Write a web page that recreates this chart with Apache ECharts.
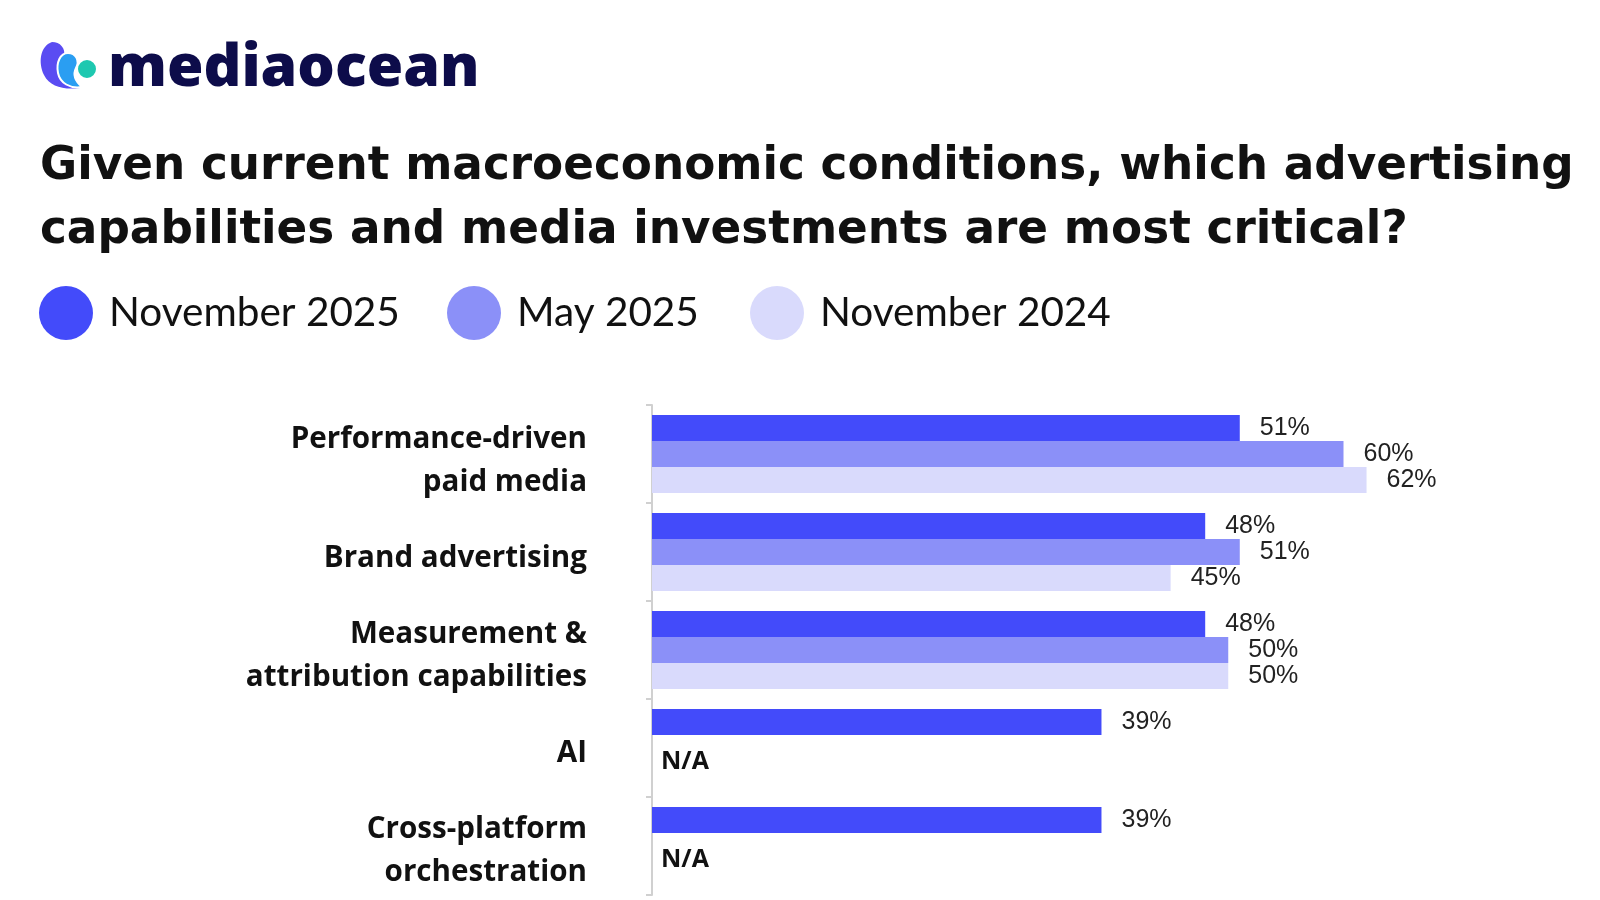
<!DOCTYPE html>
<html>
<head>
<meta charset="utf-8">
<script src="https://cdn.jsdelivr.net/npm/echarts@6/dist/echarts.min.js"></script>
<style>
html,body{margin:0;padding:0;background:#fff;}
#chart{width:1600px;height:900px;}
</style>
</head>
<body>
<div id="chart"></div>
<script>
const categories = [
  'Performance-driven\npaid media',
  'Brand advertising',
  'Measurement &\nattribution capabilities',
  'AI',
  'Cross-platform\norchestration'
];
const seriesNames = ['November 2025', 'May 2025', 'November 2024'];
const nov2025 = [51, 48, 48, 39, 39];
const may2025 = [60, 51, 50, null, null];
const nov2024 = [62, 45, 50, null, null];
const missingLabel = 'N/A';
const titleText = 'Given current macroeconomic conditions, which advertising\ncapabilities and media investments are most critical?';
const brandText = 'mediaocean';

const colors = ['#434BFA', '#8B90F8', '#D9DAFC'];

try {
  echarts.graphic.registerShape('logoDropA', echarts.graphic.extendPath('M 52 42 C 60 42 66 48 64 57 C 62 67 66 81 80 88 C 64 90 50 87 44 75 C 38 63 40 46 52 42 Z', {}));
  echarts.graphic.registerShape('logoDropB', echarts.graphic.extendPath('M 68 53 C 76 53 80 61 76 68 C 73 74 75 81 82 87 C 70 89 60 83 58 73 C 56 63 60 53 68 53 Z', {}));
} catch (e) { console.log(e); }

const chart = echarts.init(document.getElementById('chart'), null, {renderer: 'canvas'});

const valueLabel = {
  show: true,
  position: 'right',
  distance: 20,
  fontFamily: 'Liberation Sans',
  fontSize: 25,
  color: '#222',
  formatter: p => p.value + '%'
};

function mayData(arr) {
  return arr.map(v => v === null ? {
    value: 0,
    label: {
      show: true,
      formatter: missingLabel,
      position: 'right',
      distance: 9,
      offset: [0, 14],
      fontFamily: 'Open Sans',
      fontWeight: 'bold',
      fontSize: 25,
      color: '#111'
    }
  } : v);
}

const legendBase = {
  orient: 'horizontal',
  top: 286,
  itemWidth: 54,
  itemHeight: 54,
  icon: 'circle',
  selectedMode: false,
  padding: 0,
  textStyle: {fontFamily: 'Lato', fontSize: 40.5, color: '#111', padding: [4, 0, 0, 11]}
};

const option = {
  backgroundColor: '#fff',
  animation: false,
  title: {
    text: titleText,
    left: 40,
    top: 135,
    padding: 0,
    textStyle: {fontFamily: 'DejaVu Sans', fontWeight: 'bold', fontSize: 45.3, lineHeight: 64, color: '#111'}
  },
  legend: [
    Object.assign({}, legendBase, {left: 39, data: [seriesNames[0]]}),
    Object.assign({}, legendBase, {left: 447, data: [seriesNames[1]]}),
    Object.assign({}, legendBase, {left: 750, data: [seriesNames[2]]})
  ],
  grid: [
    {left: 652, top: 405, width: 922, height: 490, containLabel: false},
    {left: 652, top: 412, width: 922, height: 490, containLabel: false}
  ],
  xAxis: [
    {type: 'value', min: 0, max: 80, show: false, gridIndex: 0},
    {type: 'value', min: 0, max: 80, show: false, gridIndex: 1}
  ],
  yAxis: [
    {
      type: 'category',
      gridIndex: 0,
      data: categories,
      inverse: true,
      axisLine: {show: true, lineStyle: {color: '#d0d0d0', width: 2}},
      axisTick: {show: true, length: 6, lineStyle: {color: '#d0d0d0', width: 2}},
      axisLabel: {show: false}
    },
    {
      type: 'category',
      gridIndex: 1,
      data: categories,
      inverse: true,
      axisLine: {show: false},
      axisTick: {show: false},
      axisLabel: {
        margin: 65,
        fontFamily: 'Open Sans',
        fontWeight: 'bold',
        fontSize: 29.6,
        lineHeight: 43,
        color: '#111',
        align: 'right'
      }
    }
  ],
  series: [
    {name: seriesNames[0], type: 'bar', data: nov2025, barWidth: 26, barGap: '0%', itemStyle: {color: colors[0]}, label: valueLabel},
    {name: seriesNames[1], type: 'bar', data: mayData(may2025), barWidth: 26, barGap: '0%', itemStyle: {color: colors[1]}, label: valueLabel},
    {name: seriesNames[2], type: 'bar', data: nov2024, barWidth: 26, barGap: '0%', itemStyle: {color: colors[2]}, label: valueLabel}
  ],
  graphic: [
    {type: 'logoDropA', style: {fill: '#5A4CF2'}},
    {type: 'logoDropB', style: {fill: '#2A9EF2', stroke: '#ffffff', lineWidth: 2}},
    {type: 'circle', shape: {cx: 87, cy: 69, r: 10}, style: {fill: '#1EC8B0', stroke: '#ffffff', lineWidth: 2}},
    {type: 'text', left: 108, top: 40, style: {text: brandText, fontFamily: 'Open Sans', fontWeight: 800, fontSize: 59, fill: '#0D0C4A'}}
  ]
};

chart.setOption(option);
</script>
</body>
</html>
